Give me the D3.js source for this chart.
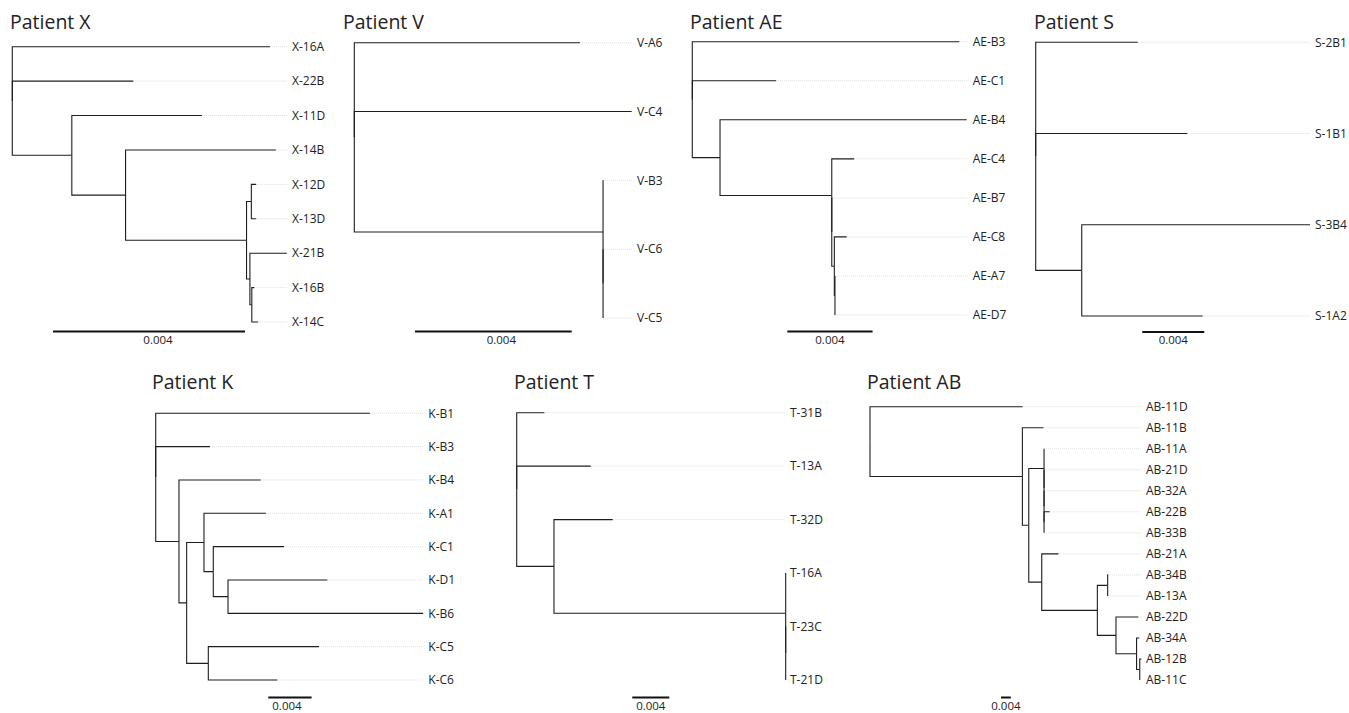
<!DOCTYPE html>
<html>
<head>
<meta charset="utf-8">
<script src="https://cdn.jsdelivr.net/npm/d3@7"></script>
<style>
    body { margin: 0; background: #fff; }
    svg { display: block; font-family: "Open Sans", sans-serif; }
</style>
</head>
<body>
<svg id="chart" width="1349" height="713"></svg>
<script>
'use strict';

// scale bar length (substitutions per site)
const SCALE_LEN = 0.004;
const SCALE_LABEL = '0.004';

// trees as [node, parent, branch length]
const treeX = [
    ['rX', '', 0],
    ['X-16A', 'rX', 0.00537],
    ['X-22B', 'rX', 0.00252],
    ['x1', 'rX', 0.00124],
    ['X-11D', 'x1', 0.00271],
    ['x2', 'x1', 0.00112],
    ['X-14B', 'x2', 0.00313],
    ['x3', 'x2', 0.00252],
    ['x4', 'x3', 0.0001],
    ['X-12D', 'x4', 0.0001],
    ['X-13D', 'x4', 0.0001],
    ['x5', 'x3', 0.00007],
    ['X-21B', 'x5', 0.00077],
    ['x6', 'x5', 0.00004],
    ['X-16B', 'x6', 0.00005],
    ['X-14C', 'x6', 0.00013]
];

const treeV = [
    ['rV', '', 0],
    ['V-A6', 'rV', 0.00576],
    ['V-C4', 'rV', 0.00708],
    ['v1', 'rV', 0.00635],
    ['V-B3', 'v1', 0],
    ['v2', 'v1', 0],
    ['V-C6', 'v2', 0],
    ['V-C5', 'v2', 0]
];

const treeAE = [
    ['rAE', '', 0],
    ['AE-B3', 'rAE', 0.01252],
    ['AE-C1', 'rAE', 0.00393],
    ['ae1', 'rAE', 0.0013],
    ['AE-B4', 'ae1', 0.01157],
    ['ae2', 'ae1', 0.00524],
    ['AE-C4', 'ae2', 0.00105],
    ['ae3', 'ae2', 0],
    ['AE-B7', 'ae3', 0],
    ['ae4', 'ae3', 0.00012],
    ['AE-C8', 'ae4', 0.00058],
    ['ae5', 'ae4', 0.00003],
    ['AE-A7', 'ae5', 0],
    ['AE-D7', 'ae5', 0]
];

const treeS = [
    ['rS', '', 0],
    ['S-2B1', 'rS', 0.00658],
    ['S-1B1', 'rS', 0.00978],
    ['s1', 'rS', 0.00297],
    ['S-3B4', 's1', 0.01473],
    ['S-1A2', 's1', 0.0078]
];

const treeK = [
    ['rK', '', 0],
    ['K-B1', 'rK', 0.01979],
    ['K-B3', 'rK', 0.00501],
    ['k1', 'rK', 0.00215],
    ['K-B4', 'k1', 0.00754],
    ['k2', 'k1', 0.00071],
    ['k3', 'k2', 0.0016],
    ['K-A1', 'k3', 0.00572],
    ['k4', 'k3', 0.00086],
    ['K-C1', 'k4', 0.00653],
    ['k5', 'k4', 0.00136],
    ['K-D1', 'k5', 0.00917],
    ['K-B6', 'k5', 0.01803],
    ['k6', 'k2', 0.002],
    ['K-C5', 'k6', 0.01022],
    ['K-C6', 'k6', 0.00637]
];

const treeT = [
    ['rT', '', 0],
    ['T-31B', 'rT', 0.00298],
    ['T-13A', 'rT', 0.008],
    ['t1', 'rT', 0.00403],
    ['T-32D', 't1', 0.00635],
    ['t2', 't1', 0.02505],
    ['T-16A', 't2', 0],
    ['t3', 't2', 0],
    ['T-23C', 't3', 0],
    ['T-21D', 't3', 0]
];

const treeAB = [
    ['rAB', '', 0],
    ['AB-11D', 'rAB', 0.0623],
    ['ab1', 'rAB', 0.0622],
    ['AB-11B', 'ab1', 0.00857],
    ['ab2', 'ab1', 0.0026],
    ['ab3', 'ab2', 0.00624],
    ['AB-11A', 'ab3', 0],
    ['ab4', 'ab3', 0],
    ['AB-21D', 'ab4', 0],
    ['ab5', 'ab4', 0],
    ['AB-32A', 'ab5', 0],
    ['ab6', 'ab5', 0],
    ['AB-22B', 'ab6', 0.0023],
    ['AB-33B', 'ab6', 0],
    ['ab7', 'ab2', 0.0053],
    ['AB-21A', 'ab7', 0.0068],
    ['ab8', 'ab7', 0.0227],
    ['ab9', 'ab8', 0.0042],
    ['AB-34B', 'ab9', 0.0002],
    ['AB-13A', 'ab9', 0],
    ['ab10', 'ab8', 0.0076],
    ['AB-22D', 'ab10', 0.0091],
    ['ab11', 'ab10', 0.0084],
    ['AB-34A', 'ab11', 0.0011],
    ['ab12', 'ab11', 0.0013],
    ['AB-12B', 'ab12', 0.0007],
    ['AB-11C', 'ab12', 0]
];

const titles = ['Patient X', 'Patient V', 'Patient AE', 'Patient S', 'Patient K', 'Patient T', 'Patient AB'];
const trees = [treeX, treeV, treeAE, treeS, treeK, treeT, treeAB];

// panel placement (pixels)
const layout = [
    { rootX: 12.3,   barPx: 192,   yTop: 46.7,  yBot: 322, labelX: 292,    barX: 53,     barY: 331.5, textY: 344, textDx: 9, titleX: 10,   titleY: 29 },
    { rootX: 354.3,  barPx: 156.7, yTop: 42.7,  yBot: 318, labelX: 637,    barX: 415,    barY: 331.5, textY: 344, textDx: 8, titleX: 343,  titleY: 29 },
    { rootX: 692.3,  barPx: 85.3,  yTop: 41.7,  yBot: 315, labelX: 972.7,  barX: 787.3,  barY: 331.5, textY: 344, textDx: 0, titleX: 690,  titleY: 29 },
    { rootX: 1035.7, barPx: 62,    yTop: 42.3,  yBot: 316, labelX: 1315,   barX: 1142.3, barY: 332,   textY: 344, textDx: 0, titleX: 1034, titleY: 29 },
    { rootX: 155.7,  barPx: 43.3,  yTop: 413.3, yBot: 680, labelX: 428.3,  barX: 268.3,  barY: 697.5, textY: 710, textDx: -3, titleX: 152, titleY: 388.5 },
    { rootX: 516.7,  barPx: 37,    yTop: 412.7, yBot: 680, labelX: 790,    barX: 632.3,  barY: 697.5, textY: 710, textDx: 0, titleX: 514,  titleY: 388.5 },
    { rootX: 870,    barPx: 9.8,   yTop: 406.7, yBot: 680, labelX: 1146,   barX: 1001,   barY: 697.5, textY: 710, textDx: 0, titleX: 867,  titleY: 388.5 }
];

const svg = d3.select('#chart');

trees.forEach((edges, i) => drawTree(svg, edges, titles[i], layout[i]));

function drawTree(svg, edges, title, p){

    // build hierarchy from the edge list
    const root = d3.stratify()
        .id(d => d[0])
        .parentId(d => d[1] || null)(edges);

    // cumulative distance from root
    root.eachBefore(n => { n.dist = n.parent ? n.parent.dist + n.data[2] : 0; });

    const x = d3.scaleLinear()
        .domain([0, SCALE_LEN])
        .range([p.rootX, p.rootX + p.barPx]);

    // leaves evenly spaced, internal nodes at middle of first/last child
    const leaves = root.leaves();
    const y = d3.scaleLinear()
        .domain([0, leaves.length - 1])
        .range([p.yTop, p.yBot]);
    leaves.forEach((l, k) => { l.py = y(k); });
    root.eachAfter(n => {
        if (n.children) n.py = (n.children[0].py + n.children[n.children.length - 1].py) / 2;
    });

    const g = svg.append('g');

    // dotted guides from tip to label
    g.selectAll('line.guide')
        .data(leaves.filter(l => x(l.dist) < p.labelX - 6))
        .join('line')
        .attr('class', 'guide')
        .attr('x1', d => x(d.dist))
        .attr('x2', p.labelX - 5)
        .attr('y1', d => d.py)
        .attr('y2', d => d.py)
        .attr('stroke', '#d6d6d6')
        .attr('stroke-width', 0.8)
        .attr('stroke-dasharray', '1,1');

    // branches (elbows)
    g.selectAll('path.branch')
        .data(root.descendants().slice(1))
        .join('path')
        .attr('class', 'branch')
        .attr('d', d => `M${x(d.parent.dist)},${d.parent.py}V${d.py}H${x(d.dist)}`)
        .attr('fill', 'none')
        .attr('stroke', '#1e1e1e')
        .attr('stroke-width', 1.1);

    // leaf labels
    g.selectAll('text.leaf')
        .data(leaves)
        .join('text')
        .attr('class', 'leaf')
        .attr('x', p.labelX)
        .attr('y', d => d.py)
        .attr('dy', '0.35em')
        .attr('font-size', 12)
        .attr('fill', '#222')
        .text(d => d.id);

    // title
    g.append('text')
        .attr('x', p.titleX)
        .attr('y', p.titleY)
        .attr('font-size', 19.5)
        .attr('fill', '#222')
        .text(title);

    // scale bar
    const barW = x(SCALE_LEN) - x(0);
    g.append('line')
        .attr('x1', p.barX)
        .attr('x2', p.barX + barW)
        .attr('y1', p.barY)
        .attr('y2', p.barY)
        .attr('stroke', '#111')
        .attr('stroke-width', 2);

    g.append('text')
        .attr('x', p.barX + barW / 2 + p.textDx)
        .attr('y', p.textY)
        .attr('text-anchor', 'middle')
        .attr('font-size', 11.5)
        .attr('fill', '#222')
        .text(SCALE_LABEL);
}
</script>
</body>
</html>
